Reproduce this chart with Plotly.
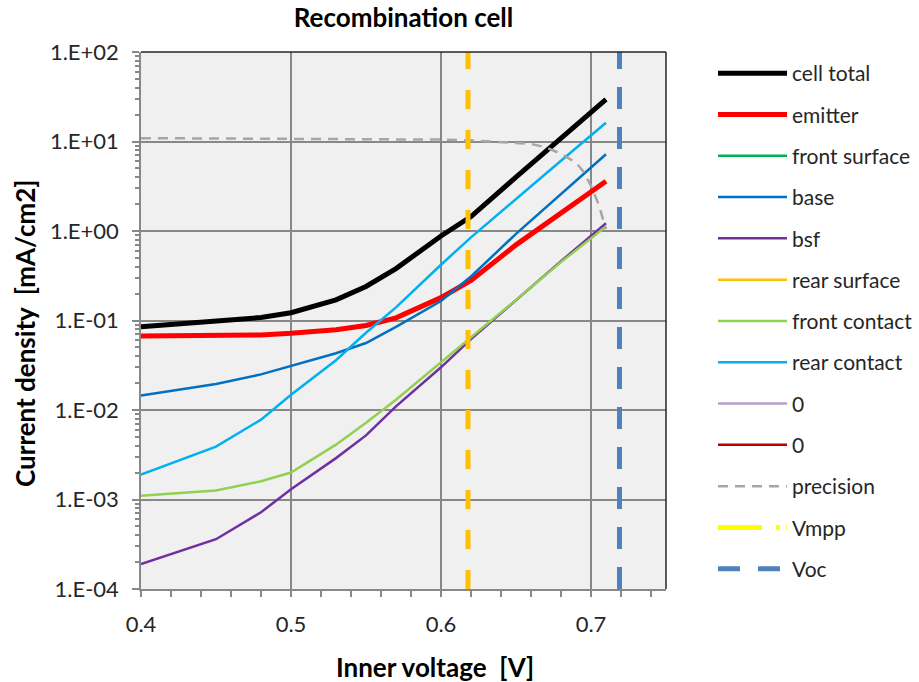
import plotly.graph_objects as go

# Inner voltage grid (V) for the recombination components
voltage = [0.40, 0.45, 0.48, 0.50, 0.53, 0.55, 0.57, 0.60, 0.62, 0.65, 0.68, 0.71]

# Recombination current densities (mA/cm2)
cell_total = [0.085, 0.097, 0.108, 0.122, 0.17, 0.24, 0.38, 0.88, 1.45, 4.0, 11.0, 29.5]
emitter = [0.067, 0.067, 0.069, 0.072, 0.079, 0.088, 0.107, 0.18, 0.28, 0.70, 1.6, 3.6]
base = [0.0145, 0.0195, 0.025, 0.031, 0.043, 0.056, 0.085, 0.165, 0.31, 0.93, 2.6, 7.2]
bsf = [0.00019, 0.00036, 0.00072, 0.0013, 0.0029, 0.0052, 0.011, 0.030, 0.062, 0.17, 0.46, 1.22]
front_contact = [0.0011, 0.00126, 0.0016, 0.0020, 0.0041, 0.0072, 0.013, 0.034, 0.064, 0.17, 0.45, 1.12]
rear_contact = [0.0019, 0.0039, 0.0078, 0.0148, 0.036, 0.073, 0.14, 0.42, 0.85, 2.3, 6.1, 16.2]

# Numerical precision curve
precision_v = [0.40, 0.50, 0.60, 0.62, 0.64, 0.66, 0.67, 0.68, 0.69, 0.695, 0.70, 0.705, 0.71]
precision = [10.9, 10.8, 10.5, 10.3, 9.9, 9.4, 8.6, 7.3, 5.8, 4.6, 3.2, 2.0, 1.05]

# Operating points (V)
vmpp = 0.618
voc = 0.719

# Axis ticks
y_tick_vals = [1e-4, 1e-3, 1e-2, 1e-1, 1e0, 1e1, 1e2]
y_tick_text = ["1.E-04", "1.E-03", "1.E-02", "1.E-01", "1.E+00", "1.E+01", "1.E+02"]
x_tick_vals = [0.4, 0.5, 0.6, 0.7]
x_tick_text = ["0.4", "0.5", "0.6", "0.7"]

FONT = "Lato, 'Open Sans', sans-serif"
PLOT_L, PLOT_R, PLOT_T, PLOT_B = 141, 666, 52, 589
W, H = 919, 682

fig = go.Figure()

def add_line(name, x, y, color, width, dash="solid", showlegend=True, group=None):
    fig.add_trace(go.Scatter(
        x=x, y=y, mode="lines", name=name,
        line=dict(color=color, width=width, dash=dash),
        showlegend=showlegend, legendgroup=group or name,
        hoverinfo="skip",
    ))

empty = [None]

add_line("cell total", voltage, cell_total, "#000000", 5, group="g1")
add_line("emitter", voltage, emitter, "#FF0000", 5, group="g2")
add_line("front surface", empty, empty, "#00B050", 2.5, group="g3")
add_line("base", voltage, base, "#0070C0", 2.5, group="g4")
add_line("bsf", voltage, bsf, "#7030A0", 2.5, group="g5")
add_line("rear surface", empty, empty, "#FFC000", 2.5, group="g6")
add_line("front contact", voltage, front_contact, "#92D050", 2.5, group="g7")
add_line("rear contact", voltage, rear_contact, "#00B0F0", 2.5, group="g8")
add_line("0", empty, empty, "#B3A2C7", 2.5, group="g9")
add_line("0", empty, empty, "#C00000", 2.5, group="g10")
add_line("precision", precision_v, precision, "#A6A6A6", 2.5, dash="10px,7px", group="g11")

# Vertical markers for Vmpp and Voc
add_line("Vmpp", empty, empty, "#FFFF00", 5, dash="44px,14px,4px,6px", group="g12")
add_line("Vmpp", [vmpp, vmpp], [1e-4, 1e2], "#FFC000", 5, dash="19px,21px",
         showlegend=False, group="g12")
add_line("Voc", [voc, voc], [1e-4, 1e2], "#4F81BD", 5, dash="22px,18px", group="g13")

pw = PLOT_R - PLOT_L
ph = PLOT_B - PLOT_T

fig.update_layout(
    width=W, height=H,
    margin=dict(l=PLOT_L, r=W - PLOT_R, t=PLOT_T, b=H - PLOT_B, autoexpand=False),
    paper_bgcolor="white",
    plot_bgcolor="#F0F0F0",
    font=dict(family=FONT, color="#262626"),
    title=dict(text="<b>Recombination cell</b>", x=(PLOT_L + PLOT_R) / 2 / W, xanchor="center",
               y=1 - 18 / H, yanchor="middle", font=dict(size=26, color="#000000", family=FONT)),
    showlegend=True,
    legend=dict(
        x=(713 - PLOT_L) / pw, xanchor="left", y=(PLOT_B - 53) / ph, yanchor="top",
        font=dict(size=21, family=FONT, color="#262626"),
        tracegroupgap=11, bgcolor="rgba(0,0,0,0)",
        itemwidth=69, maxheight=1.0,
    ),
    xaxis=dict(
        range=[0.4, 0.75], tickvals=x_tick_vals, ticktext=x_tick_text,
        showgrid=True, gridcolor="#888888", gridwidth=1.5,
        showline=True, linecolor="#888888", linewidth=1.5,
        ticks="outside", ticklen=6, tickcolor="#888888", tickwidth=1.5,
        ticklabelstandoff=9,
        minor=dict(tickvals=[0.42, 0.44, 0.46, 0.48, 0.52, 0.54, 0.56, 0.58, 0.62, 0.64, 0.66,
                             0.68, 0.72, 0.74],
                   ticks="outside", ticklen=6, tickcolor="#888888", tickwidth=1.5, showgrid=False),
        tickfont=dict(size=22, family=FONT, color="#262626"),
        zeroline=False,
    ),
    yaxis=dict(
        type="log", range=[-4, 2], tickvals=y_tick_vals, ticktext=y_tick_text,
        showgrid=True, gridcolor="#888888", gridwidth=1.5,
        showline=True, linecolor="#888888", linewidth=1.5,
        ticks="outside", ticklen=7, tickcolor="#888888", tickwidth=1.5,
        ticklabelstandoff=9,
        minor=dict(tickvals=[m * 10 ** d for d in range(-4, 2) for m in range(2, 10)],
                   ticks="outside", ticklen=4, tickcolor="#888888", tickwidth=1.5, showgrid=False),
        tickfont=dict(size=22, family=FONT, color="#262626"),
        zeroline=False,
    ),
    shapes=[
        dict(type="line", xref="x domain", yref="y domain", x0=0, x1=1, y0=1, y1=1,
             line=dict(color="#262626", width=1.5)),
        dict(type="line", xref="x domain", yref="y domain", x0=1, x1=1, y0=0, y1=1,
             line=dict(color="#262626", width=1.5)),
    ],
    annotations=[
        dict(text="<b>Inner voltage  [V]</b>", xref="paper", yref="paper",
             x=(435 - PLOT_L) / pw, y=-(667 - PLOT_B) / ph, xanchor="center", yanchor="middle",
             showarrow=False, font=dict(size=26, family=FONT, color="#000000")),
        dict(text="<b>Current density  [mA/cm2]</b>", xref="paper", yref="paper",
             x=-(PLOT_L - 25) / pw, y=(PLOT_B - 333) / ph, xanchor="center", yanchor="middle",
             textangle=-90, showarrow=False, font=dict(size=26, family=FONT, color="#000000")),
    ],
)

fig.write_html("out.html")
